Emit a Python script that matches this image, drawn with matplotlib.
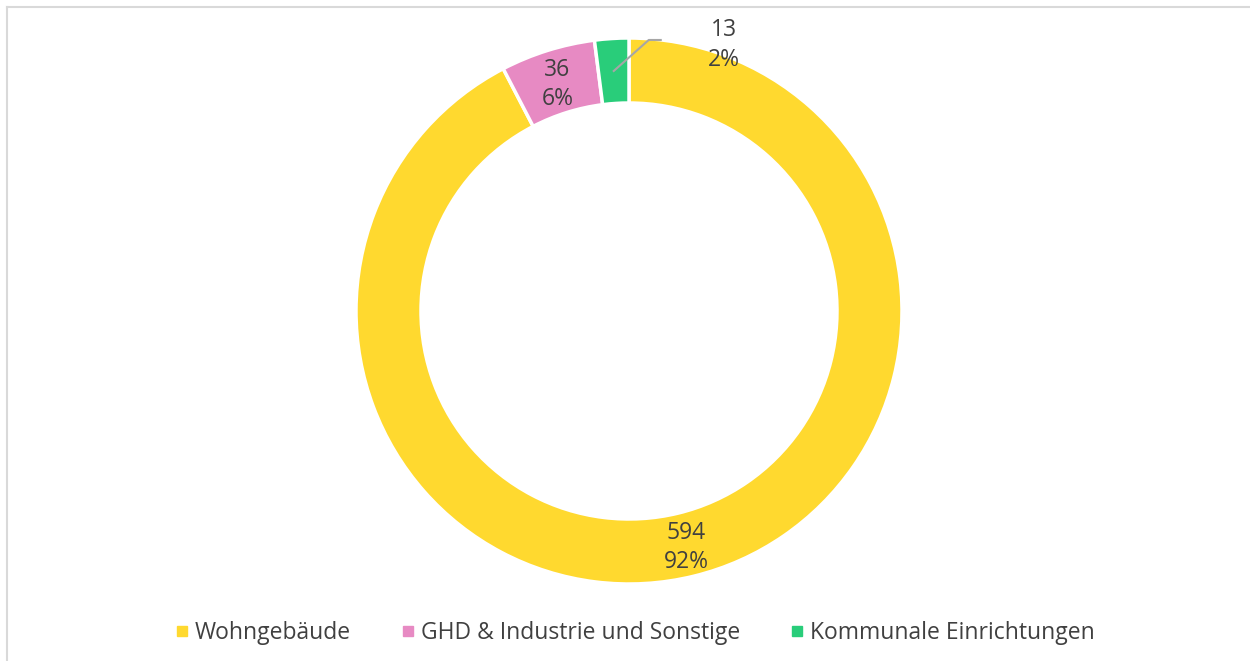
import numpy as np
import matplotlib.pyplot as plt
from matplotlib.lines import Line2D

plt.rcParams['font.family'] = ['Open Sans', 'DejaVu Sans']

categories = ['Wohngebäude', 'GHD & Industrie und Sonstige', 'Kommunale Einrichtungen']
values = [594, 36, 13]
colors = ['#FFD92F', '#E78AC3', '#29CD7A']
txt_col = '#404040'

W, H = 1250, 661
fig = plt.figure(figsize=(W / 100, H / 100), dpi=100)
ax = fig.add_axes([0, 0, 1, 1])

cx, cy = 629, 350
r_out, ring = 273, 65
wedges, _ = ax.pie(values, colors=colors, startangle=90, counterclock=False,
                   radius=r_out, center=(cx, cy), frame=True,
                   wedgeprops=dict(width=ring, edgecolor='white', linewidth=2.5))
ax.set_xlim(0, W)
ax.set_ylim(0, H)
ax.set_aspect('equal')
ax.axis('off')

total = sum(values)
r_mid = r_out - ring / 2
fs = 16.5
for i, w in enumerate(wedges):
    ang = np.deg2rad((w.theta1 + w.theta2) / 2)
    x = cx + r_mid * np.cos(ang)
    y = cy + r_mid * np.sin(ang)
    pct = round(values[i] / total * 100)
    lab = f'{values[i]}\n{pct}%'
    if i < 2:
        ax.text(x, y - 3, lab, ha='center', va='center', fontsize=fs,
                color=txt_col, linespacing=1.3)
    else:
        # small slice: label outside with leader line
        ax.plot([x, x + 35, x + 47], [y, y + 31, y + 31], color='#A6A6A6', lw=1.5)
        ax.text(724, 616, lab, ha='center', va='center', fontsize=fs,
                color=txt_col, linespacing=1.3)

handles = [Line2D([], [], marker='s', ls='', markersize=6.5, color=c) for c in colors]
fig.legend(handles, categories, loc='center', bbox_to_anchor=(0.509, 1 - 633 / H),
           ncol=3, frameon=False, fontsize=fs, labelcolor=txt_col,
           handlelength=0.4, handletextpad=0.35, columnspacing=2.3)

# light frame (top and left edge visible)
ax.plot([7, W], [H - 7, H - 7], color='#D9D9D9', lw=1.5, clip_on=False)
ax.plot([7, 7], [H - 7, 0], color='#D9D9D9', lw=1.5, clip_on=False)

fig.savefig('out.png', dpi=100)
